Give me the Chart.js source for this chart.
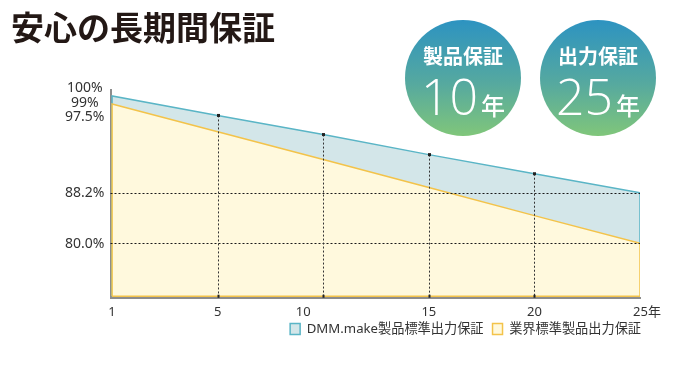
<!DOCTYPE html>
<html lang="ja"><head><meta charset="utf-8">
<script src="https://cdn.jsdelivr.net/npm/chart.js@4.4.1/dist/chart.umd.min.js"></script>
<style>
html,body{margin:0;padding:0;background:#fff;}
#wrap{position:relative;width:687px;height:367px;overflow:hidden;font-family:'Noto Sans CJK JP','Noto Sans',sans-serif;}
#chart{position:absolute;left:0;top:0;}
h1{position:absolute;left:11px;top:10px;margin:0;font-size:33px;line-height:33px;font-weight:700;color:#231815;white-space:nowrap;}
.badge{position:absolute;top:20px;width:116px;height:116px;border-radius:50%;background:linear-gradient(#2d93c1 0%,#56a99f 55%,#80c67a 100%);color:#fff;text-align:center;}
.badge .cap{position:absolute;left:0;right:0;top:26px;font-size:20px;line-height:20px;font-weight:700;white-space:nowrap;}
.badge .big{position:absolute;left:0;right:0;top:51px;font-family:'Open Sans','Noto Sans',sans-serif;font-size:50px;line-height:50px;font-weight:300;white-space:nowrap;}
.badge .yr{font-family:'Noto Sans CJK JP',sans-serif;font-size:24px;line-height:24px;font-weight:500;margin-left:3px;}
</style>
</head><body>
<div id="wrap">
<canvas id="chart" width="687" height="367"></canvas>
<h1>安心の長期間保証</h1>
<div class="badge" style="left:405px"><div class="cap">製品保証</div><div class="big"><span class="num">10</span><span class="yr">年</span></div></div>
<div class="badge" style="left:540px"><div class="cap">出力保証</div><div class="big"><span class="num">25</span><span class="yr">年</span></div></div>
</div>
<script>
// ---- data ----
const YEARS = ['1', '5', '10', '15', '20', '25'];
const YEAR_UNIT = '年';
const DMM_OUTPUT = [99, 96.3, 94.3, 92.2, 90.2, 88.2];
const INDUSTRY_OUTPUT = [97.5, 94.6, 91.7, 88.75, 84.5, 80.0];
const SERIES_NAMES = ['DMM.make製品標準出力保証', '業界標準製品出力保証'];
const Y_TICK_VALUES = [100, 99, 97.5, 88.2, 80.0];
const Y_TICK_LABELS = ['100%', '99%', '97.5%', '88.2%', '80.0%'];
const GUIDE_VALUES = [88.2, 80.0];
const Y_MIN = 71.2, Y_MAX = 100, AREA_BASE = 71.45;

// ---- scale calibration (the reference axis is not uniform) ----
const SCALE_KNOTS = {
  x: [[-0.015, 0], [5, 1]],
  y: [[71.2, 0], [80, 0.262], [88.2, 0.5048], [97.5, 0.9327], [99, 0.9712], [100, 1]]
};
const LABEL_SHIFT = { x: [0, 0, -20, 0, 0, 7], y: [-2, 7, 13, 0, 1] };
const LEGEND_NUDGE = { x: 10, y: -13 };

class PiecewiseScale extends Chart.LinearScale {
  _frac(v) {
    const k = SCALE_KNOTS[this.id]; let i = 1;
    while (i < k.length - 1 && v > k[i][0]) i++;
    const [v0, f0] = k[i - 1], [v1, f1] = k[i];
    return f0 + (v - v0) * (f1 - f0) / (v1 - v0);
  }
  getPixelForValue(v) {
    const f = this._frac(v);
    return this.isHorizontal() ? this.left + f * (this.right - this.left) : this.bottom - f * (this.bottom - this.top);
  }
  getValueForPixel(p) {
    const f = this.isHorizontal() ? (p - this.left) / (this.right - this.left) : (this.bottom - p) / (this.bottom - this.top);
    const k = SCALE_KNOTS[this.id]; let i = 1;
    while (i < k.length - 1 && f > k[i][1]) i++;
    const [v0, f0] = k[i - 1], [v1, f1] = k[i];
    return v0 + (f - f0) * (v1 - v0) / (f1 - f0);
  }
  getPixelForTick(i) {
    if (i < 0 || i >= this.ticks.length) return null;
    const sh = (LABEL_SHIFT[this.id] || [])[i] || 0;
    return this.getPixelForValue(this.ticks[i].value) + sh;
  }
}
PiecewiseScale.id = 'piecewise';
PiecewiseScale.defaults = Chart.LinearScale.defaults;
Chart.register(PiecewiseScale);

function area(values) {
  const pts = values.map((v, i) => ({ x: i, y: v }));
  return [{ x: 0, y: AREA_BASE }, ...pts, { x: values.length - 1, y: AREA_BASE }, { x: 0, y: AREA_BASE }];
}

const guides = {
  id: 'guides',
  afterLayout(chart) {
    const lg = chart.legend;
    lg.left += LEGEND_NUDGE.x; lg.right += LEGEND_NUDGE.x;
    lg.top += LEGEND_NUDGE.y; lg.bottom += LEGEND_NUDGE.y;
  },
  afterDatasetsDraw(chart) {
    const { ctx, chartArea: ca, scales: { x, y } } = chart;
    ctx.save();
    ctx.lineWidth = 1;
    ctx.setLineDash([2, 2]);
    ctx.strokeStyle = '#1a1a1a';
    const xr = x.getPixelForValue(YEARS.length - 1);
    GUIDE_VALUES.forEach(v => {
      const py = Math.round(y.getPixelForValue(v)) + 0.5;
      ctx.beginPath(); ctx.moveTo(ca.left, py); ctx.lineTo(xr, py); ctx.stroke();
    });
    ctx.strokeStyle = '#333';
    for (let i = 1; i < YEARS.length - 1; i++) {
      const px = Math.round(x.getPixelForValue(i)) + 0.5;
      const top = y.getPixelForValue(DMM_OUTPUT[i]);
      ctx.beginPath(); ctx.moveTo(px, top); ctx.lineTo(px, ca.bottom); ctx.stroke();
      ctx.fillStyle = '#222';
      ctx.fillRect(px - 1.5, top - 1.5, 3, 3);
      ctx.fillRect(px - 1, ca.bottom - 3, 2, 3);
    }
    ctx.restore();
  }
};

new Chart(document.getElementById('chart'), {
  type: 'line',
  data: {
    datasets: [
      { label: SERIES_NAMES[0], data: area(DMM_OUTPUT), order: 2,
        borderColor: '#5ab5c6', backgroundColor: '#d3e6e9', borderWidth: 1.5, fill: 'shape' },
      { label: SERIES_NAMES[1], data: area(INDUSTRY_OUTPUT), order: 1,
        borderColor: '#f3c34a', backgroundColor: '#fff9dd', borderWidth: 1.5, fill: 'shape' }
    ]
  },
  options: {
    responsive: false, animation: false,
    elements: { point: { radius: 0, hoverRadius: 0 }, line: { tension: 0 } },
    layout: { padding: { left: 0, right: 47, top: 90, bottom: 8.5 } },
    plugins: {
      tooltip: { enabled: false },
      legend: {
        position: 'bottom', align: 'end',
        labels: {
          boxWidth: 10, boxHeight: 11, padding: 9, color: '#333',
          font: { family: "'Noto Sans','Noto Sans CJK JP',sans-serif", size: 13.2 },
          sort: (a, b) => a.datasetIndex - b.datasetIndex
        }
      }
    },
    scales: {
      x: {
        type: 'piecewise', min: -0.015, max: YEARS.length - 1,
        afterBuildTicks: s => { s.ticks = YEARS.map((_, i) => ({ value: i })); },
        grid: { display: false, drawTicks: false },
        border: { display: true, color: '#8d8d8d', width: 2 },
        ticks: {
          autoSkip: false, maxRotation: 0, padding: 6.5, color: '#333',
          font: { family: "'Noto Sans','Noto Sans CJK JP',sans-serif", size: 13 },
          callback: (v, i) => YEARS[i] + (i === YEARS.length - 1 ? YEAR_UNIT : '')
        }
      },
      y: {
        type: 'piecewise', min: Y_MIN, max: Y_MAX,
        afterBuildTicks: s => { s.ticks = Y_TICK_VALUES.map(v => ({ value: v })); },
        afterFit: s => { s.width = 110.5; },
        grid: { display: false, drawTicks: false },
        border: { display: true, color: '#8d8d8d', width: 2 },
        ticks: {
          autoSkip: false, padding: 6, crossAlign: 'center', color: '#333',
          font: { family: "'Noto Sans','Noto Sans CJK JP',sans-serif", size: 14 },
          callback: (v, i) => Y_TICK_LABELS[i]
        }
      }
    }
  },
  plugins: [guides]
});
</script>
</body></html>
